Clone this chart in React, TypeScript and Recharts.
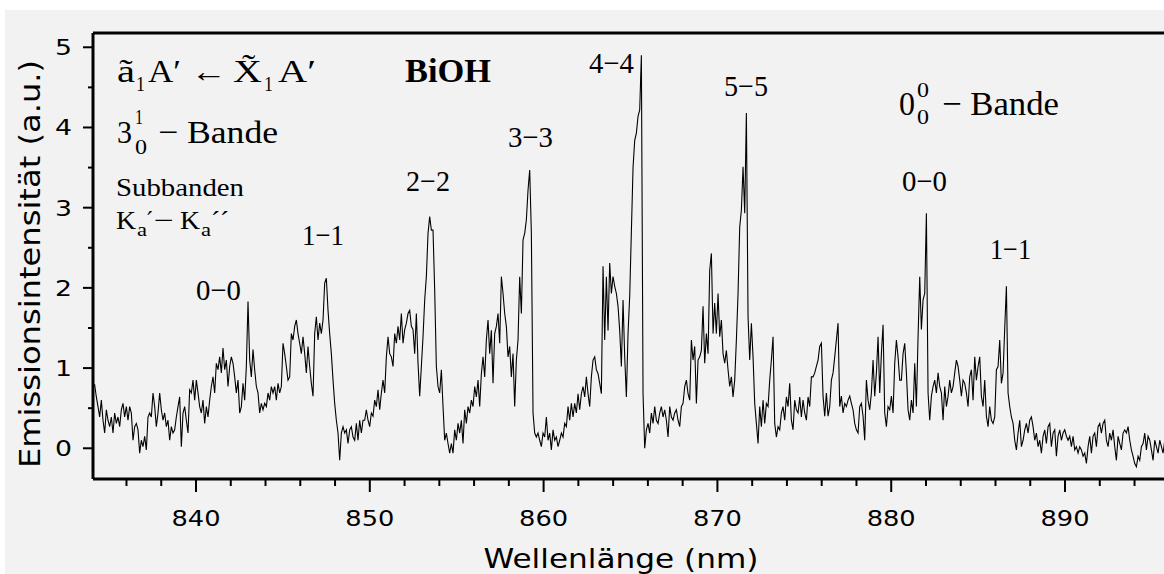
import { LineChart, Line, XAxis, YAxis, ReferenceLine } from "recharts";

// sampling grid of the spectrum (nm)
const WL_START = 834.074;
const WL_STEP = 0.0959;

// intensity readings, one segment per ~10 nm
const seg834 = [
  0.77, 0.79, 0.64, 0.52, 0.39, 0.6, 0.35, 0.19, 0.48, 0.35,
  0.27, 0.39, 0.19, 0.44, 0.31, 0.39, 0.27, 0.48, 0.56, 0.39,
  0.52, 0.35, 0.52, 0.44, 0.1, 0.27, 0.31, 0.23, -0.06, 0.1,
  0.02, 0.15, -0.02, 0.39, 0.44, 0.39, 0.69, 0.52, 0.27, 0.44,
  0.69, 0.48, 0.35, 0.44, 0.27, 0.35, 0.1, 0.27, 0.19, 0.23,
  0.39, 0.52, 0.64, 0.02, 0.44, 0.52, 0.35, 0.19, 0.73, 0.69,
  0.85, 0.6, 0.85, 0.69, 0.52, 0.44, 0.6, 0.31, 0.52, 0.39,
  0.6, 0.77, 0.89, 0.69, 1.06, 0.98, 1.14, 0.94, 1.25, 0.98,
  1.1, 0.77, 1.02, 1.14, 1.06, 0.89, 0.69, 0.85, 0.44, 0.52,
  0.81, 0.6, 1.02, 1.83, 1.1, 0.89, 1.23, 0.98, 0.77, 0.69,
  0.44, 0.56, 0.48, 0.56, 0.52, 0.69, 0.6, 0.77,
];

const seg844 = [
  0.69, 0.77, 0.6, 0.81, 0.69, 0.77, 1.31, 1.18, 1.02, 0.85,
  0.89, 1.43, 1.35, 1.52, 1.6, 1.43, 1.31, 1.18, 1.39, 1.18,
  0.94, 1.27, 1.02, 0.81, 0.65, 1.43, 1.64, 1.35, 1.56, 1.43,
  1.6, 2.06, 2.12, 1.72, 1.43, 1.18, 0.85, 0.56, 0.35, 0.19,
  -0.15, 0.19, 0.27, 0.19, 0.23, 0.06, 0.23, 0.27, 0.14, 0.1,
  0.31, 0.1, 0.35, 0.19, 0.35, 0.35, 0.48, 0.35, 0.27, 0.44,
  0.4, 0.6, 0.52, 0.73, 0.48, 0.69, 0.85, 0.69, 1.14, 1.39,
  1.18, 1.14, 1.02, 1.43, 1.31, 1.52, 1.35, 1.68, 1.31, 1.48,
  1.56, 1.68, 1.72, 1.52, 1.48, 1.18, 1.68, 1.06, 0.65, 1.02,
  1.39, 1.85, 2.14, 2.68, 2.89, 2.72, 2.72, 1.97, 1.02, 0.77,
  0.69, 0.98, 0.52, 0.1, 0.19, 0.06, -0.06, 0.06,
];

const seg854 = [
  -0.06, 0.23, 0.1, 0.31, 0.19, 0.35, 0.06, 0.48, 0.31, 0.52,
  0.44, 0.6, 0.52, 0.77, 0.64, 0.85, 0.52, 0.93, 1.14, 0.89,
  1.35, 1.6, 1.18, 1.47, 0.81, 1.43, 1.52, 1.68, 1.31, 2.14,
  1.93, 1.68, 1.52, 1.14, 1.27, 0.89, 1.18, 0.52, 1.1, 1.35,
  2.14, 1.68, 2.6, 2.68, 2.85, 3.22, 3.47, 2.68, 0.44, 0.19,
  0.14, 0.19, 0.1, 0.02, 0.19, 0.14, 0.39, 0.1, 0.19, -0.02,
  0.23, 0.1, 0.14, 0.02, 0.1, 0.19, 0.14, 0.31, 0.27, 0.52,
  0.35, 0.56, 0.39, 0.56, 0.44, 0.68, 0.48, 0.68, 0.77, 0.64,
  0.89, 0.68, 0.52, 0.89, 1.1, 1.14, 0.98, 0.93, 0.81, 0.68,
  2.27, 1.35, 2.14, 1.47, 2.31, 1.93, 2.14, 2.02, 1.93, 1.77,
  1.47, 1.02, 1.85, 1.14, 0.64, 1.43, 1.9, 2.7,
];

const seg865 = [
  3.5, 3.84, 3.93, 4.14, 4.22, 4.9, 0.68, 0.0, 0.23, 0.31,
  0.19, 0.44, 0.31, 0.52, 0.35, 0.31, 0.44, 0.52, 0.39, 0.48,
  0.35, 0.14, 0.52, 0.39, 0.35, 0.44, 0.48, 0.35, 0.27, 0.52,
  0.56, 0.77, 0.85, 0.68, 0.6, 1.35, 1.1, 1.27, 0.56, 1.1,
  1.14, 1.22, 1.77, 1.06, 1.43, 1.18, 2.22, 2.43, 1.43, 1.81,
  1.43, 1.93, 1.39, 1.6, 1.18, 1.06, 1.22, 0.98, 0.77, 0.89,
  0.64, 0.85, 1.35, 1.93, 2.76, 2.97, 3.51, 2.93, 4.18, 1.64,
  1.1, 1.56, 1.14, 0.56, 0.31, 0.06, 0.52, 0.27, 0.6, 0.31,
  0.56, 0.52, 0.85, 1.1, 1.39, 0.31, 0.14, 0.27, 0.23, 0.44,
  0.52, 0.35, 0.64, 0.52, 0.81, 0.35, 0.23, 0.6, 0.48, 0.44,
  0.64, 0.39, 0.6, 0.44, 0.35, 0.64, 0.52, 0.89,
];

const seg875 = [
  0.89, 0.94, 1.02, 1.1, 1.27, 1.31, 0.65, 0.4, 0.69, 0.4,
  0.52, 0.85, 0.94, 1.14, 1.35, 1.56, 0.52, 0.65, 0.44, 0.56,
  0.52, 0.6, 0.65, 0.56, 0.48, 0.31, 0.23, 0.19, 0.52, 0.56,
  0.4, 0.1, 0.85, 0.6, 0.48, 0.69, 1.1, 0.65, 0.94, 1.39,
  0.69, 1.18, 1.54, 0.44, 0.27, 0.52, 0.48, 0.65, 0.44, 1.06,
  1.35, 1.14, 0.85, 0.85, 1.18, 1.31, 0.94, 0.48, 0.35, 0.6,
  0.44, 1.06, 0.52, 1.39, 2.14, 1.48, 1.85, 1.93, 2.93, 0.69,
  0.35, 0.65, 0.77, 0.85, 0.69, 0.94, 0.77, 0.69, 0.35, 0.77,
  0.52, 0.65, 0.85, 0.69, 0.77, 0.94, 1.1, 1.02, 0.85, 0.65,
  0.85, 0.81, 0.69, 0.52, 0.89, 0.98, 0.6, 1.14, 0.85, 1.02,
  1.14, 0.65, 0.52, 0.85, 0.4, 0.27, 0.52, 0.35,
];

const seg885 = [
  0.31, 0.39, 0.98, 1.02, 1.35, 0.81, 0.94, 1.5, 2.02, 0.69,
  0.52, 0.39, 0.31, 0.1, -0.02, 0.19, 0.35, 0.02, 0.1, 0.23,
  0.31, 0.19, 0.35, 0.39, 0.27, 0.1, 0.19, 0.02, 0.1, -0.06,
  0.15, 0.23, 0.06, 0.27, 0.31, 0.02, 0.19, 0.23, -0.1, 0.15,
  0.23, 0.1, 0.19, 0.23, 0.15, 0.1, 0.15, 0.02, 0.15, -0.02,
  0.02, -0.06, 0.02, -0.02, -0.1, -0.06, -0.19, 0.02, 0.15, -0.06,
  0.15, 0.19, 0.02, 0.27, 0.31, 0.19, 0.31, 0.35, 0.1, 0.02,
  0.19, 0.1, 0.23, 0.02, -0.15, 0.15, 0.06, -0.02, 0.19, 0.23,
  0.19, 0.27, 0.1, -0.02, -0.1, -0.19, -0.23, -0.1, -0.15, 0.02,
  0.06, 0.19, -0.02, 0.15, 0.1, -0.02, -0.15, 0.1, 0.02, -0.06,
  0.1, 0.02, -0.06, 0.1, 0.04, 0.12, 0.02, -0.04, 0.08,
];

const X_TICKS = [
  836, 838, 840, 842, 844, 846, 848, 850, 852, 854, 856, 858, 860, 862, 864,
  866, 868, 870, 872, 874, 876, 878, 880, 882, 884, 886, 888, 890, 892, 894, 896,
];
const Y_TICKS = [0, 0.5, 1, 1.5, 2, 2.5, 3, 3.5, 4, 4.5, 5];

const X_MIN = 834.074;
const X_MAX = 896.04;
const Y_MIN = -0.383;
const Y_MAX = 5.178;

const spectrum = [...seg834, ...seg844, ...seg854, ...seg865, ...seg875, ...seg885];
const data = spectrum.map((v, i) => ({ wl: WL_START + i * WL_STEP, v }));

const SANS = '"DejaVu Sans", sans-serif';
const SERIF = '"Liberation Serif", "Times New Roman", serif';

function XTick({ x, y, payload }: any) {
  const major = payload.value % 10 === 0;
  return (
    <g>
      <line x1={x} x2={x} y1={y} y2={y + (major ? 13 : 7)} stroke="#000" strokeWidth={2} />
      {major && (
        <text
          x={x}
          y={y + 47}
          textAnchor="middle"
          fontFamily={SANS}
          fontSize={22}
          textLength={49}
          lengthAdjust="spacingAndGlyphs"
          fill="#000"
        >
          {payload.value}
        </text>
      )}
    </g>
  );
}

function YTick({ x, y, payload }: any) {
  const major = Number.isInteger(payload.value);
  return (
    <g>
      <line x1={x} x2={x - (major ? 10 : 5)} y1={y} y2={y} stroke="#000" strokeWidth={2} />
      {major && (
        <text
          x={x - 21}
          y={y + 8}
          textAnchor="end"
          fontFamily={SANS}
          fontSize={21}
          textLength={17}
          lengthAdjust="spacingAndGlyphs"
          fill="#000"
        >
          {payload.value}
        </text>
      )}
    </g>
  );
}

function T({ x, y, size, len, bold, children }: any) {
  return (
    <text
      x={x}
      y={y}
      fontSize={size}
      textLength={len}
      lengthAdjust="spacingAndGlyphs"
      fontFamily={SERIF}
      fontWeight={bold ? "bold" : "normal"}
      fill="#000"
    >
      {children}
    </text>
  );
}

export default function App() {
  return (
    <div style={{ position: "absolute", left: 0, top: 0, width: 1164, height: 574, overflow: "hidden", background: "#fff" }}>
      <div style={{ position: "absolute", left: 5, top: 10, right: 0, bottom: 0, background: "#f2f2f2" }} />
      <div style={{ position: "absolute", left: 0, top: 0 }}>
        <LineChart width={1170} height={574} data={data} margin={{ top: 33, right: 0, bottom: 0, left: 0 }}>
          <XAxis
            type="number"
            dataKey="wl"
            domain={[X_MIN, X_MAX]}
            allowDataOverflow
            ticks={X_TICKS}
            interval={0}
            height={95}
            tickSize={0}
            tickMargin={0}
            tickLine={false}
            axisLine={{ stroke: "#000", strokeWidth: 3 }}
            tick={(p: any) => <XTick {...p} />}
          />
          <YAxis
            type="number"
            domain={[Y_MIN, Y_MAX]}
            allowDataOverflow
            ticks={Y_TICKS}
            interval={0}
            width={93}
            tickSize={0}
            tickMargin={0}
            tickLine={false}
            axisLine={{ stroke: "#000", strokeWidth: 3 }}
            tick={(p: any) => <YTick {...p} />}
          />
          <ReferenceLine y={Y_MAX} stroke="#000" strokeWidth={3} />
          <Line
            type="linear"
            dataKey="v"
            stroke="#000"
            strokeWidth={1.1}
            dot={false}
            isAnimationActive={false}
          />
        </LineChart>
      </div>
      <svg width={1164} height={574} style={{ position: "absolute", left: 0, top: 0, pointerEvents: "none" }}>
        {/* axis titles */}
        <text x={621} y={568} textAnchor="middle" fontFamily={SANS} fontSize={27} textLength={275} lengthAdjust="spacingAndGlyphs" fill="#000">
          Wellenlänge (nm)
        </text>
        <text
          x={40}
          y={264}
          transform="rotate(-90, 40, 264)"
          textAnchor="middle"
          fontFamily={SANS}
          fontSize={29}
          textLength={408}
          lengthAdjust="spacingAndGlyphs"
          fill="#000"
        >
          Emissionsintensität (a.u.)
        </text>

        {/* transition */}
        <T x={117} y={82} size={31} len={18}>ã</T>
        <T x={136} y={91} size={21} len={9}>1</T>
        <T x={148} y={82} size={31} len={33}>A′</T>
        <T x={191} y={82} size={31} len={36}>←</T>
        <T x={233} y={82} size={31} len={29}>X̃</T>
        <T x={264} y={91} size={21} len={9}>1</T>
        <T x={278} y={82} size={31} len={38}>A′</T>
        <T x={405} y={82} size={34} len={86} bold>BiOH</T>

        {/* 3^1_0 band */}
        <T x={117} y={143} size={32} len={15}>3</T>
        <T x={135} y={124} size={21} len={8}>1</T>
        <T x={135} y={154} size={21} len={12}>0</T>
        <T x={158} y={143} size={32} len={120}>− Bande</T>

        <T x={116} y={196} size={26} len={128}>Subbanden</T>
        <T x={116} y={229} size={26} len={20}>K</T>
        <T x={137} y={236} size={19} len={10}>a</T>
        <T x={146} y={229} size={26} len={7}>´</T>
        <T x={154} y={229} size={26} len={20}>−</T>
        <T x={180} y={229} size={26} len={20}>K</T>
        <T x={201} y={236} size={19} len={10}>a</T>
        <T x={211} y={229} size={26} len={18}>´´</T>

        {/* peak labels */}
        <T x={196} y={300} size={30} len={45}>0−0</T>
        <T x={302} y={245} size={30} len={42}>1−1</T>
        <T x={406} y={191} size={30} len={44}>2−2</T>
        <T x={508} y={147} size={30} len={45}>3−3</T>
        <T x={589} y={73} size={30} len={45}>4−4</T>
        <T x={724} y={96} size={30} len={44}>5−5</T>
        <T x={902} y={191} size={30} len={45}>0−0</T>
        <T x={990} y={259} size={30} len={41}>1−1</T>

        {/* 0^0_0 band */}
        <T x={899} y={115} size={34} len={16}>0</T>
        <T x={917} y={97} size={22} len={12}>0</T>
        <T x={917} y={124} size={22} len={12}>0</T>
        <T x={942} y={115} size={34} len={117}>− Bande</T>
      </svg>
    </div>
  );
}
